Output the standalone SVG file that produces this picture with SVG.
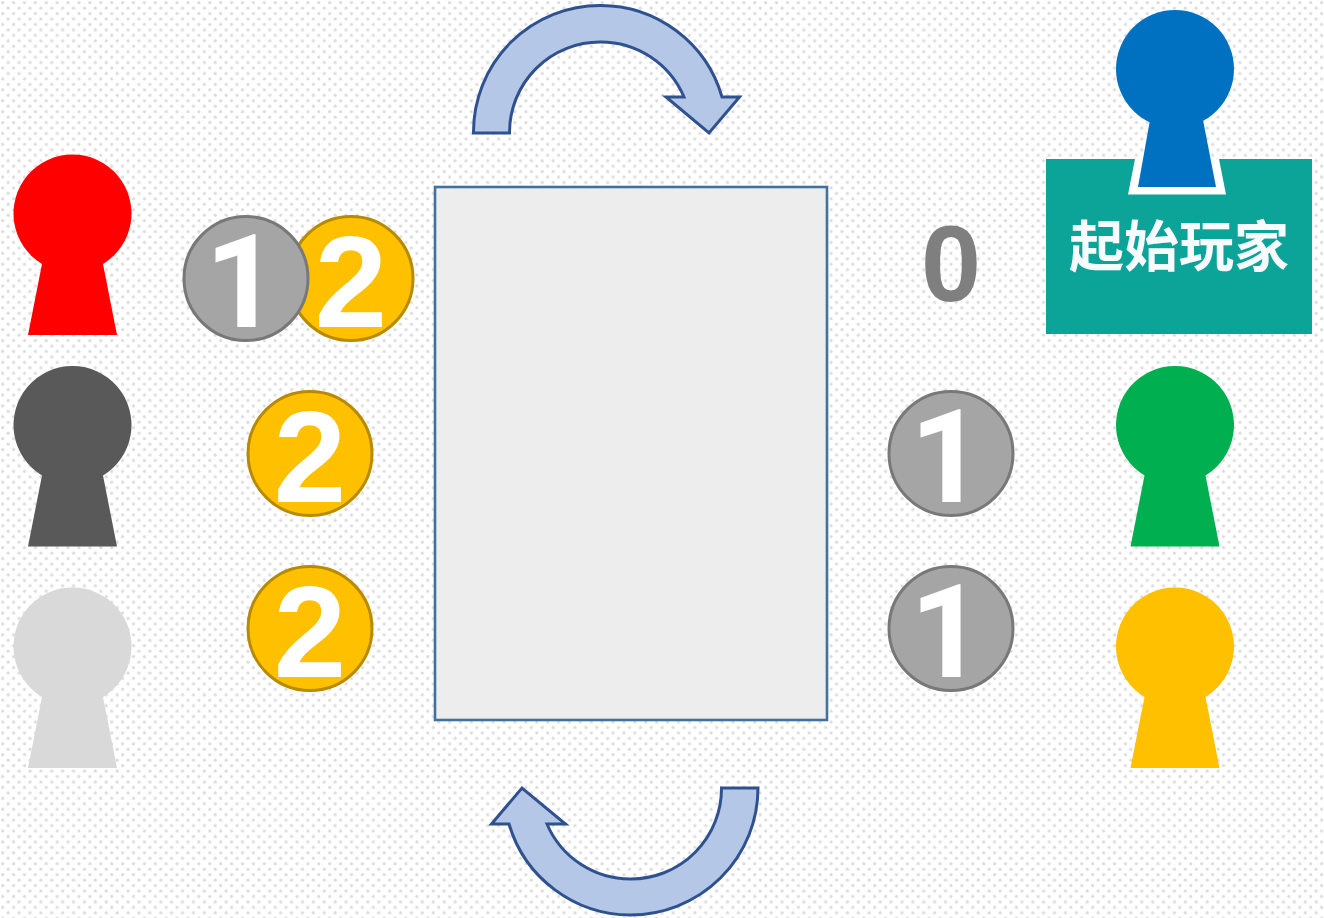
<svg xmlns="http://www.w3.org/2000/svg" width="1324" height="918" viewBox="0 0 1324 918">
<defs>
<pattern id="dots" width="10.9" height="10.9" patternUnits="userSpaceOnUse">
<rect width="10.9" height="10.9" fill="#fff"/>
<circle cx="2.7" cy="2.7" r="1.6" fill="#dcdcdc"/>
<circle cx="8.15" cy="8.15" r="1.6" fill="#dcdcdc"/>
</pattern>
<path id="pawn" d="M-30.500 51A59 59 0 1 1 30.500 51L44.500 122H-44.500Z"/>
</defs>
<style>
.coin{stroke-width:3}
.g{fill:#A5A5A5;stroke:#787878}
.y{fill:#FFC000;stroke:#B88A00}
.two{font-family:"Liberation Sans",Arial,sans-serif;font-weight:700;font-size:130px;fill:#fff;text-anchor:middle}
.one{font-family:Roboto,"Liberation Sans",sans-serif;font-weight:700;font-size:129px;fill:#fff;text-anchor:middle}
.arrow{fill:#B4C7E7;stroke:#2F528F;stroke-width:3;stroke-linejoin:miter}
</style>
<rect id="background" width="1324" height="918" fill="url(#dots)"/>
<g id="board"><rect x="435" y="187" width="392" height="533" fill="#EDEDED" stroke="#41719C" stroke-width="2.600"/></g>
<g id="connectors">
<path id="arrow-top" class="arrow" d="M473.500 133V132A126.500 126.500 0 0 1 600 5.500A126.500 126.500 0 0 1 722 97H739.500L709 133L666 97H684A90.500 90.500 0 0 0 600 42A90.500 90.500 0 0 0 509.500 132V133Z"/>
<path id="arrow-bottom" class="arrow" d="M758 788A127.500 127 0 0 1 630.500 915A127 127 0 0 1 509 824H491.500L522 788L565.500 824H547A90.500 90.500 0 0 0 630.500 879A90.500 90.500 0 0 0 721.500 788Z"/>
</g>
<g id="pawn-red"><use href="#pawn" x="72.500" y="213" fill="#FF0000"/></g>
<g id="pawn-dark"><use href="#pawn" x="72.500" y="424.500" fill="#595959"/></g>
<g id="pawn-light"><use href="#pawn" x="72.500" y="646" fill="#D9D9D9"/></g>
<g id="start-player">
<rect x="1046" y="159" width="266" height="175" fill="#0CA398"/>
<text x="1179" y="266" font-family="'Noto Sans CJK SC',sans-serif" font-weight="700" font-size="55px" fill="#F7FBFB" text-anchor="middle">起始玩家</text>
</g>
<g id="pawn-blue">
<polygon points="1135,159 1128,194.500 1226,194.500 1219,159" fill="#fff"/>
<circle cx="1175" cy="69" r="59" fill="#0070C0"/>
<polygon points="1150,120 1138,187 1216,187 1203,120" fill="#0070C0"/>
</g>
<g id="pawn-green"><use href="#pawn" x="1175" y="424.500" fill="#00B050"/></g>
<g id="pawn-yellow"><use href="#pawn" x="1175" y="646" fill="#FFC000"/></g>
<g id="coin-2a"><circle class="coin y" cx="351" cy="278.500" r="62"/><text class="two" x="351" y="327">2</text></g>
<g id="coin-1a"><circle class="coin g" cx="246" cy="278.500" r="62"/><text class="one" x="242" y="327">1</text></g>
<g id="coin-2b"><circle class="coin y" cx="310" cy="453.500" r="62"/><text class="two" x="310" y="502">2</text></g>
<g id="coin-2c"><circle class="coin y" cx="310" cy="628.500" r="62"/><text class="two" x="310" y="677">2</text></g>
<g id="coin-0"><text x="951" y="301" font-family="'Liberation Sans',Arial,sans-serif" font-weight="700" font-size="108px" fill="#7F7F7F" text-anchor="middle">0</text></g>
<g id="coin-1b"><circle class="coin g" cx="951" cy="453.500" r="62"/><text class="one" x="947" y="502">1</text></g>
<g id="coin-1c"><circle class="coin g" cx="951" cy="628.500" r="62"/><text class="one" x="947" y="677">1</text></g>
</svg>
